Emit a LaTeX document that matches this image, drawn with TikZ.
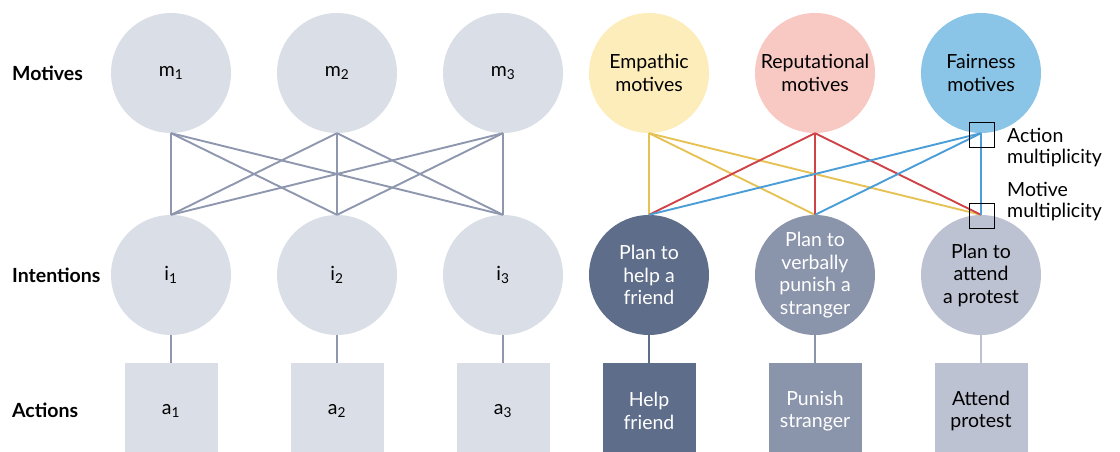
\documentclass[tikz,border=0pt]{standalone}
\usepackage{fontspec}
\setmainfont{Lato}
\definecolor{pale}{HTML}{DADEE6}
\definecolor{wire}{HTML}{8E97AE}
\definecolor{empath}{HTML}{FDEDBB}
\definecolor{reput}{HTML}{F8C8C3}
\definecolor{fair}{HTML}{8AC4E7}
\definecolor{yel}{HTML}{E6C255}
\definecolor{rd}{HTML}{CF4347}
\definecolor{bl}{HTML}{4A9DD7}
\definecolor{dark}{HTML}{5E6D89}
\definecolor{mid}{HTML}{8A94AB}
\definecolor{light}{HTML}{BDC2D3}
\tikzset{
  blob/.style={circle, minimum size=120pt, inner sep=0pt, align=center,
    font=\fontsize{19.5}{22.5}\selectfont},
  act/.style={rectangle, minimum width=93pt, minimum height=96pt, inner sep=0pt,
    align=center, font=\fontsize{19.5}{22.5}\selectfont},
  row/.style={anchor=west, inner sep=0pt, font=\fontsize{19.5}{22}\selectfont\bfseries},
  note/.style={anchor=west, align=left, inner sep=0pt,
    font=\fontsize{19.5}{21.5}\selectfont},
  mark box/.style={draw=black, line width=0.9pt, minimum size=25pt, inner sep=0pt}
}
\begin{document}
\begin{tikzpicture}[x=1pt, y=-1pt]
      \useasboundingbox (0,0) rectangle (1120,452);
      \draw
        (12,73) node[row] (lm){Motives}
        (12,275) node[row] (li){Intentions}
        (12,410) node[row] (la){Actions};
      % generic model
      \draw
        (171,73) node[blob, fill=pale] (m1){m\textsubscript{1}}
        (337,73) node[blob, fill=pale] (m2){m\textsubscript{2}}
        (503,73) node[blob, fill=pale] (m3){m\textsubscript{3}}
        (171,275) node[blob, fill=pale] (i1){i\textsubscript{1}}
        (337,275) node[blob, fill=pale] (i2){i\textsubscript{2}}
        (503,275) node[blob, fill=pale] (i3){i\textsubscript{3}}
        (171,411) node[act, fill=pale] (a1){a\textsubscript{1}}
        (337,411) node[act, fill=pale] (a2){a\textsubscript{2}}
        (503,411) node[act, fill=pale] (a3){a\textsubscript{3}};
      \begin{scope}[wire, line width=1.9pt]
        \draw (m1.south) to (i1.north);
        \draw (m1.south) to (i2.north);
        \draw (m1.south) to (i3.north);
        \draw (m2.south) to (i1.north);
        \draw (m2.south) to (i2.north);
        \draw (m2.south) to (i3.north);
        \draw (m3.south) to (i1.north);
        \draw (m3.south) to (i2.north);
        \draw (m3.south) to (i3.north);
        \draw (i1.south) to (a1.north);
        \draw (i2.south) to (a2.north);
        \draw (i3.south) to (a3.north);
      \end{scope}
      % worked example
      \draw
        (649,73) node[blob, fill=empath] (em){Empathic\\motives}
        (815,73) node[blob, fill=reput] (rep){Reputational\\motives}
        (981,73) node[blob, fill=fair] (fa){Fairness\\motives}
        (649,275) node[blob, fill=dark, text=white] (ph){Plan to\\help a\\friend}
        (815,275) node[blob, fill=mid, text=white] (pv){Plan to\\verbally\\punish a\\stranger}
        (981,275) node[blob, fill=light] (pa){Plan to\\attend\\a protest}
        (649,411) node[act, fill=dark, text=white] (hf){Help\\friend}
        (815,411) node[act, fill=mid, text=white] (ps){Punish\\stranger}
        (981,411) node[act, fill=light] (ap){Attend\\protest};
      \begin{scope}[line width=1.9pt]
        \draw[yel] (em.south) to (ph.north);
        \draw[yel] (em.south) to (pv.north);
        \draw[yel] (em.south) to (pa.north);
        \draw[rd] (rep.south) to (ph.north);
        \draw[rd] (rep.south) to (pv.north);
        \draw[rd] (rep.south) to (pa.north);
        \draw[bl] (fa.south) to (ph.north);
        \draw[bl] (fa.south) to (pv.north);
        \draw[bl] (fa.south) to (pa.north);
        \draw[dark] (ph.south) to (hf.north);
        \draw[mid] (pv.south) to (ps.north);
        \draw[light] (pa.south) to (ap.north);
      \end{scope}
      \draw
        (982,134.5) node[mark box] (b1){}
        (982,215.5) node[mark box] (b2){}
        (1007,147.5) node[note] (n1){Action\\multiplicity}
        (1007,201.5) node[note] (n2){Motive\\multiplicity};
    \end{tikzpicture}
\end{document}
